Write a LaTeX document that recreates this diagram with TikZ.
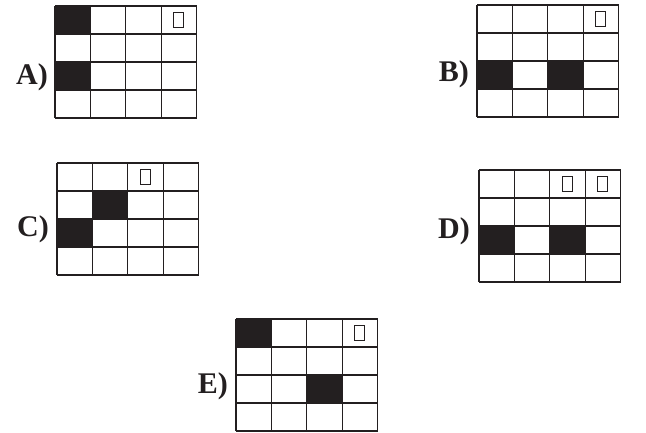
\documentclass[tikz,border=0pt]{standalone}
\usepackage{fontspec}
\setmainfont{Liberation Serif}
\definecolor{ink}{HTML}{231F20}
\newcommand\cw{35.4}
\newcommand\ch{28}
\newcommand\mkgrid[2]{%
  \foreach \i in {0,...,4} {
    \draw[gridline] ({#1+\i*\cw},#2) -- ({#1+\i*\cw},{#2+4*\ch});
    \draw[gridline] (#1,{#2+\i*\ch}) -- ({#1+4*\cw},{#2+\i*\ch});
  }}
\newcommand\mkfill[4]{% x0 y0 col row
  \fill[cellfill] ({#1+(#3-1)*\cw},{#2+(#4-1)*\ch}) rectangle ++(\cw,\ch);}
\newcommand\mkmark[4]{% x0 y0 col row
  \draw[markbox] ({#1+(#3-0.5)*\cw-5},{#2+(#4-0.5)*\ch-7.5}) rectangle ++(10,15);}
\begin{document}
\begin{tikzpicture}[x=1pt,y=-1pt,
  gridline/.style={draw=ink,line width=1.3pt},
  cellfill/.style={fill=ink},
  markbox/.style={draw=ink,line width=0.9pt},
  lab/.style={anchor=east,inner sep=0pt,font=\fontsize{30}{30}\selectfont\bfseries,text=ink}]
\useasboundingbox (0,0) rectangle (646,432);
% A
\mkfill{55}{6}{1}{1}
\mkfill{55}{6}{1}{3}
\mkgrid{55}{6}
\mkmark{55}{6}{4}{1}
\node[lab] (la) at (48,77) {A)};
% B
\mkfill{477}{5}{1}{3}
\mkfill{477}{5}{3}{3}
\mkgrid{477}{5}
\mkmark{477}{5}{4}{1}
\node[lab] (lb) at (469,74) {B)};
% C
\mkfill{57}{163}{2}{2}
\mkfill{57}{163}{1}{3}
\mkgrid{57}{163}
\mkmark{57}{163}{3}{1}
\node[lab] (lc) at (49,229) {C)};
% D
\mkfill{479}{170}{1}{3}
\mkfill{479}{170}{3}{3}
\mkgrid{479}{170}
\mkmark{479}{170}{3}{1}
\mkmark{479}{170}{4}{1}
\node[lab] (ld) at (470,231) {D)};
% E
\mkfill{236}{319}{1}{1}
\mkfill{236}{319}{3}{3}
\mkgrid{236}{319}
\mkmark{236}{319}{4}{1}
\node[lab] (le) at (228,386) {E)};
\end{tikzpicture}
\end{document}
